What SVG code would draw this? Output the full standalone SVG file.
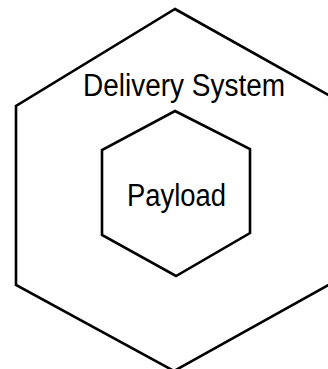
<svg xmlns="http://www.w3.org/2000/svg" width="328" height="369" viewBox="0 0 328 369">
<style>
.hex{fill:none;stroke:#000;stroke-width:2.6;stroke-linejoin:miter}
.lbl{font-family:"Liberation Sans",Arial,sans-serif;font-size:31px;fill:#000}
</style>
<rect width="328" height="369" fill="#fff"/>
<g id="delivery-system">
<polygon class="hex" points="175,9 334,98 334,282 174,371 16,285 16,106"/>
<text class="lbl" x="83" y="96" textLength="202" lengthAdjust="spacingAndGlyphs">Delivery System</text>
</g>
<g id="payload">
<polygon class="hex" points="175,111 250,149 250,233 176,276 102,235 102,150"/>
<text class="lbl" x="127" y="206" textLength="99" lengthAdjust="spacingAndGlyphs">Payload</text>
</g>
<g id="connectors"/>
</svg>
